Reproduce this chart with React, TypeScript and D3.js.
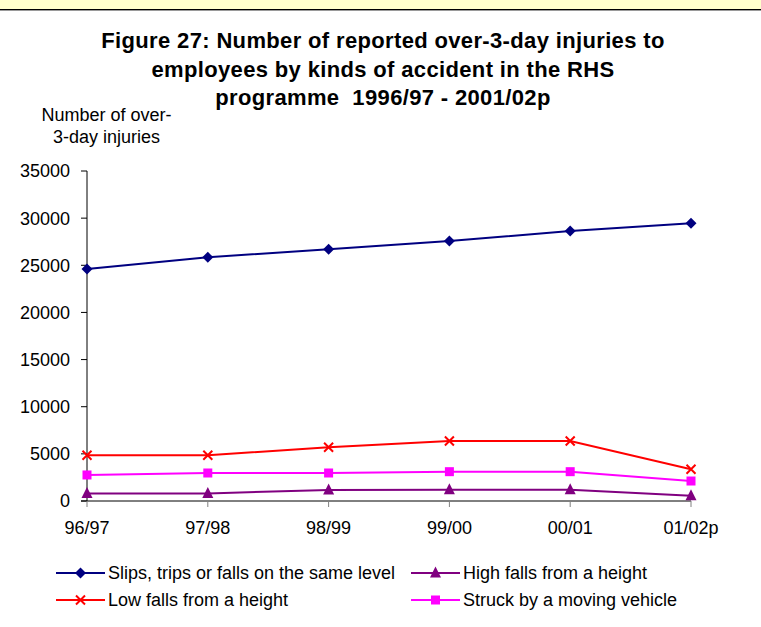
import React from "react";
import * as d3 from "d3";

const categories = ["96/97", "97/98", "98/99", "99/00", "00/01", "01/02p"];
const slipsValues = [24600, 25850, 26700, 27575, 28640, 29450];
const highFallsValues = [800, 800, 1170, 1200, 1200, 560];
const lowFallsValues = [4850, 4850, 5700, 6360, 6360, 3360];
const struckValues = [2760, 2970, 2970, 3110, 3110, 2120];
const yTicks = [0, 5000, 10000, 15000, 20000, 25000, 30000, 35000];
const titleLines = [
  "Figure 27: Number of reported over-3-day injuries to",
  "employees by kinds of accident in the RHS",
  "programme  1996/97 - 2001/02p",
];
const yLabelLines = ["Number of over-", "3-day injuries"];

type Series = { name: string; values: number[]; color: string; marker: string };
const series: Series[] = [
  { name: "Slips, trips or falls on the same level", values: slipsValues, color: "#000080", marker: "diamond" },
  { name: "High falls from a height", values: highFallsValues, color: "#800080", marker: "triangle" },
  { name: "Low falls from a height", values: lowFallsValues, color: "#FF0000", marker: "x" },
  { name: "Struck by a moving vehicle", values: struckValues, color: "#FF00FF", marker: "square" },
];

const FONT = "'Liberation Sans', Arial, sans-serif";

function Marker({ type, x, y, color }: { type: string; x: number; y: number; color: string }) {
  if (type === "diamond") {
    const s = 5.5;
    return <path d={`M${x},${y - s}L${x + s},${y}L${x},${y + s}L${x - s},${y}Z`} fill={color} />;
  }
  if (type === "square") {
    const s = 4.5;
    return <rect x={x - s} y={y - s} width={2 * s} height={2 * s} fill={color} />;
  }
  if (type === "triangle") {
    const s = 5.5;
    return <path d={`M${x},${y - s - 1}L${x + s},${y + s - 1}L${x - s},${y + s - 1}Z`} fill={color} />;
  }
  const s = 4.5;
  return (
    <path d={`M${x - s},${y - s}L${x + s},${y + s}M${x - s},${y + s}L${x + s},${y - s}`} stroke={color} strokeWidth={2} fill="none" />
  );
}

export default function App() {
  const x = d3.scalePoint<string>().domain(categories).range([87, 691]);
  const y = d3.scaleLinear().domain([0, 35000]).range([501, 171]);
  const line = d3
    .line<number>()
    .x((_, i) => x(categories[i]) as number)
    .y((d) => y(d));

  const legendPos = [
    { lx: 56, ly: 573 },
    { lx: 411, ly: 573 },
    { lx: 56, ly: 600 },
    { lx: 411, ly: 600 },
  ];

  return (
    <div style={{ position: "absolute", left: 0, top: 0 }}>
      <svg width={761} height={627} style={{ display: "block", background: "#fff" }}>
        <rect x={0} y={0} width={761} height={9} fill="#FFFFCC" />
        <line x1={0} x2={761} y1={9.5} y2={9.5} stroke="#000" strokeWidth={1} />
        <line x1={0} x2={761} y1={10.5} y2={10.5} stroke="#9a9a9a" strokeWidth={1} />

        {titleLines.map((t, i) => (
          <text
            key={i}
            x={383}
            y={48 + i * 28.5}
            textAnchor="middle"
            fontFamily={FONT}
            fontWeight="bold"
            fontSize={22}
            letterSpacing={0.35}
            fill="#000"
            style={{ whiteSpace: "pre" }}
          >
            {t}
          </text>
        ))}

        {yLabelLines.map((t, i) => (
          <text key={i} x={106.5} y={121 + i * 22} textAnchor="middle" fontFamily={FONT} fontSize={18} fill="#000">
            {t}
          </text>
        ))}

        {/* y axis */}
        <line x1={87} x2={87} y1={y(35000)} y2={y(0)} stroke="#000" strokeWidth={1} />
        {yTicks.map((t) => (
          <g key={t}>
            <line x1={81} x2={87} y1={y(t)} y2={y(t)} stroke="#000" strokeWidth={1} />
            <text x={70} y={y(t)} dy="0.36em" textAnchor="end" fontFamily={FONT} fontSize={18} fill="#000">
              {t}
            </text>
          </g>
        ))}

        {/* x axis */}
        <line x1={81} x2={691} y1={y(0)} y2={y(0)} stroke="#000" strokeWidth={1} />
        {categories.map((c) => (
          <g key={c}>
            <line x1={x(c)} x2={x(c)} y1={y(0)} y2={y(0) + 6} stroke="#808080" strokeWidth={1} />
            <text x={x(c)} y={534} textAnchor="middle" fontFamily={FONT} fontSize={18} fill="#000">
              {c}
            </text>
          </g>
        ))}

        {/* series */}
        {series.map((s) => (
          <g key={s.name}>
            <path d={line(s.values) as string} fill="none" stroke={s.color} strokeWidth={2} />
            {s.values.map((v, i) => (
              <Marker key={i} type={s.marker} x={x(categories[i]) as number} y={y(v)} color={s.color} />
            ))}
          </g>
        ))}

        {/* legend */}
        {series.map((s, i) => {
          const p = legendPos[i];
          return (
            <g key={s.name}>
              <line x1={p.lx} x2={p.lx + 49} y1={p.ly} y2={p.ly} stroke={s.color} strokeWidth={2} />
              <Marker type={s.marker} x={p.lx + 24.5} y={p.ly} color={s.color} />
              <text x={p.lx + 52} y={p.ly} dy="0.36em" fontFamily={FONT} fontSize={18} fill="#000">
                {s.name}
              </text>
            </g>
          );
        })}
      </svg>
    </div>
  );
}
